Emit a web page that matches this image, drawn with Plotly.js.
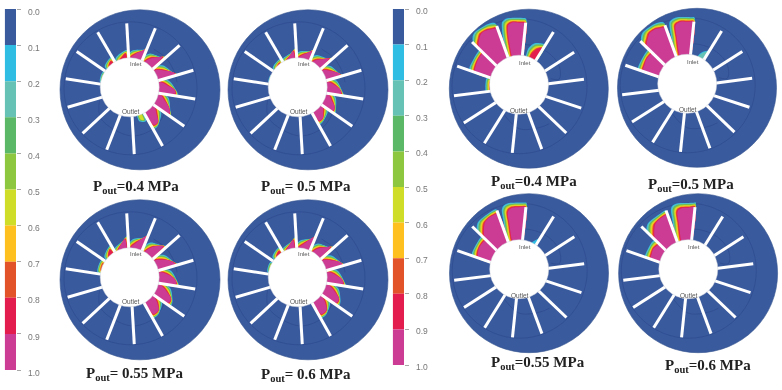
<!DOCTYPE html>
<html><head><meta charset="utf-8">
<script src="https://cdn.plot.ly/plotly-3.0.1.min.js"></script>
<style>html,body{margin:0;padding:0;background:#fff}#plot{width:782px;height:390px;filter:blur(0.4px)}</style>
</head><body><div id="plot"></div>
<script>
// Colour scale
const levels = [0.0,0.1,0.2,0.3,0.4,0.5,0.6,0.7,0.8,0.9,1.0];
const levelLabels = ['0.0','0.1','0.2','0.3','0.4','0.5','0.6','0.7','0.8','0.9','1.0'];
const levelColors = ['#3a5a9e','#2fbde4','#66c2b4','#5ab866','#8dc63f','#cfdc28','#fdc01e','#e2532a','#e31e4f','#cc3c94'];

// Vane directions (degrees) read from each group of discs
const vanesLeft = [93.3,67.7,41.5,16.4,-9,-34.8,-60.7,-86.7,-111.3,-137,-163.6,171.2,145.2,120.1];
const vanesRight = [84.1,58.3,32.7,7.5,-18.2,-43.8,-69.7,-95.9,-121.9,-147.4,-173,160.8,135.8,109.9];

// Port arcs [angle, radius]
const arcsLeft = [
  [[60,46],[40,47],[20,47],[8,47]],
  [[-160,33],[-135,42],[-90,47],[-60,46],[-35,42]]
];
const arcsRight = [
  [[128,32],[112,39],[90,43],[62,45],[40,46],[24,45],[12,41],[16,33]],
  [[-118,31],[-90,41],[-62,45],[-50,47]]
];

// Cavitation regions per disc: [peak level, [angle, radius], ...]
const regions040 = [
  [9,[69,42],[74,39],[82,35],[90,31]],
  [9,[45,45],[50,41],[56,37],[62,31]],
  [9,[19,47],[24,43],[30,37],[37,31]],
  [9,[-6,45],[-1,44],[5,37],[12,31]],
  [9,[-32,46],[-26,43],[-19,36],[-12,31]],
  [9,[-57,43],[-50,43],[-44,36],[-38,31]],
  [5,[-67,34],[-72,32]],
  [8,[98,36],[105,33],[112,30]],
  [8,[125,34],[134,31]],
  [4,[150,31],[165,30]]
];
const regions050 = [
  [9,[71,40],[76,37],[83,34],[90,31]],
  [9,[45,43],[50,39],[56,35],[62,31]],
  [9,[19,44],[24,41],[30,36],[37,31]],
  [9,[-6,43],[0,41],[6,36],[12,31]],
  [9,[-32,41],[-26,40],[-19,35],[-12,31]],
  [9,[-57,38],[-50,38],[-44,34],[-38,31]],
  [9,[98,38],[105,34],[113,30]],
  [8,[126,32],[136,30]],
  [3,[155,30],[165,30]]
];
const regions055 = [
  [9,[70,45],[75,41],[82,36],[90,31]],
  [9,[45,46],[50,43],[56,38],[62,31]],
  [9,[19,47],[24,44],[30,38],[37,31]],
  [9,[-6,46],[0,44],[6,38],[12,31]],
  [9,[-32,45],[-26,45],[-19,38],[-12,31]],
  [9,[-57,42],[-48,42],[-42,36],[-38,31]],
  [9,[98,40],[105,36],[114,30]],
  [8,[125,36],[135,31]],
  [7,[150,32],[165,31]]
];
const regions060 = [
  [9,[70,44],[75,40],[82,35],[90,31]],
  [9,[45,45],[50,41],[56,37],[62,31]],
  [9,[19,46],[24,43],[30,37],[37,31]],
  [9,[-6,45],[0,43],[6,37],[12,31]],
  [9,[-32,45],[-26,45],[-19,38],[-12,31]],
  [9,[-57,42],[-48,42],[-42,36],[-38,31]],
  [9,[98,39],[105,35],[114,30]],
  [8,[125,34],[135,31]],
  [5,[152,31],[165,30]]
];
const regionsB040 = [
  [9,[84,64.5],[90,65],[96,65.5],[100,63],[101.8,52],[102.5,42],[103,33]],
  [9,[110,63],[115,64.5],[120,66],[125,66],[129,63],[134,58]],
  [9,[136,50],[140,50],[147,49.5],[153,48.5],[159,47]],
  [7,[168,30],[180,30],[186,29.5]],
  [8,[60,46],[65,43],[70,36]]
];
const regionsB050 = [
  [9,[84,65],[90,65],[95,65.5],[99,64],[101,62],[102,50],[104,33]],
  [9,[110,63],[115,64.5],[120,66],[125,65.5],[129,62.5],[134,58]],
  [9,[136,48],[140,49],[147,49],[153,48],[159,47]],
  [2,[60,41],[66,37],[70,32]]
];
const regionsB055 = [
  [9,[84,65],[90,65],[95,65],[99,63.5],[101,60],[101.5,50],[103,33]],
  [9,[110,62],[115,62.5],[120,62],[125,60],[130,55],[134,50]],
  [9,[136,46],[140,47],[147,47],[153,46],[159,44]],
  [1,[60,39],[63,36],[68,31],[71,28]]
];
const regionsB060 = [
  [9,[84,65],[90,64.5],[95,64.5],[99,63],[100.5,60],[101,50],[103,33]],
  [9,[110,61],[115,61],[120,60],[125,58],[130,53],[134,48]],
  [9,[136,40],[140,41],[147,42],[153,41],[159,40]]
];

const captions = ['P<sub>out</sub>=0.4 MPa','P<sub>out</sub>= 0.5 MPa','P<sub>out</sub>=0.4 MPa','P<sub>out</sub>=0.5 MPa',
                  'P<sub>out</sub>= 0.55 MPa','P<sub>out</sub>= 0.6 MPa','P<sub>out</sub>=0.55 MPa','P<sub>out</sub>=0.6 MPa'];
const portNames = ['Inlet','Outlet'];

// Layout of the figure in page pixels
const panels = [
 {cx:130.5,cy:88.8,left:true, spread:0.42,regions:regions040,capX:136,capY:187},
 {cx:298.5,cy:88.8,left:true, spread:0.42,regions:regions050,capX:306,capY:187},
 {cx:519,  cy:87.7,left:false,spread:0.6,regions:regionsB040,capX:534,capY:182},
 {cx:687.2,cy:86.8,left:false,spread:0.6,regions:regionsB050,capX:691,capY:185},
 {cx:130.5,cy:278.8,left:true, spread:0.42,regions:regions055,capX:134,capY:374},
 {cx:298.5,cy:278.8,left:true, spread:0.42,regions:regions060,capX:306,capY:375},
 {cx:519.2,cy:272.2,left:false,spread:0.6,regions:regionsB055,capX:538,capY:363},
 {cx:688.3,cy:272.2,left:false,spread:0.65,regions:regionsB060,capX:708,capY:366}
];
const W=782,H=390;
const BOX={l:72,r:92,u:82,d:84};
const rad=a=>a*Math.PI/180;
const traces=[]; const shapes=[]; const annotations=[]; const layout={
  width:W,height:H,margin:{l:0,r:0,t:0,b:0},paper_bgcolor:'#fff',plot_bgcolor:'rgba(0,0,0,0)',showlegend:false
};

function limits(a,vanes){
  let lo=-400,hi=400;
  vanes.forEach(v=>{const d=((v-a+540)%360)-180; if(d>=0&&d<hi)hi=d; if(d<0&&d>lo)lo=d;});
  return [a+lo,a+hi];
}
function bandPolygon(pts,d,vanes){
  const as=pts.map(p=>p[0]);
  const mid=(Math.min(...as)+Math.max(...as))/2;
  const [lo,hi]=limits(mid,vanes);
  const out=pts.map(([a,r])=>{
    let b=a+(a>=mid?1:-1)*d/r*180/Math.PI;
    b=Math.max(lo,Math.min(hi,b));
    return [b,r+d];
  });
  out.push([out[out.length-1][0],20]); out.unshift([out[0][0],20]);
  return out;
}

panels.forEach((p,i)=>{
  const n=i+1, xa=n===1?'x':'x'+n, ya=n===1?'y':'y'+n;
  layout['xaxis'+(n===1?'':n)]={domain:[(p.cx-BOX.l)/W,(p.cx+BOX.r)/W],range:[-BOX.l,BOX.r],visible:false,fixedrange:true,anchor:ya};
  layout['yaxis'+(n===1?'':n)]={domain:[(H-p.cy-BOX.d)/H,(H-p.cy+BOX.u)/H],range:[-BOX.d,BOX.u],visible:false,fixedrange:true,anchor:xa};
  const vanes=p.left?vanesLeft:vanesRight;
  const arcs=p.left?arcsLeft:arcsRight;
  const disc=p.left?{x:9.5,y:-1,r:80}:{x:9.8,y:-1,r:79.5};
  const hole=p.left?{x:-0.8,y:1.5,r:29.5}:{x:0,y:3,r:29.5};
  const ring=p.left?{x:0,y:0.5,r:66.5}:{x:0.5,y:1.5,r:67.5};
  shapes.push({type:'circle',xref:xa,yref:ya,x0:disc.x-disc.r,x1:disc.x+disc.r,y0:disc.y-disc.r,y1:disc.y+disc.r,
    fillcolor:levelColors[0],line:{color:'#35558f',width:0.6},layer:'below'});
  shapes.push({type:'circle',xref:xa,yref:ya,x0:ring.x-ring.r,x1:ring.x+ring.r,y0:ring.y-ring.r,y1:ring.y+ring.r,
    fillcolor:'rgba(0,0,0,0)',line:{color:'#2f4d90',width:0.8},layer:'below'});
  arcs.forEach(arc=>traces.push({type:'scatter',mode:'lines',xaxis:xa,yaxis:ya,hoverinfo:'skip',
    x:arc.map(q=>q[1]*Math.cos(rad(q[0]))),y:arc.map(q=>q[1]*Math.sin(rad(q[0]))),
    line:{color:'#2f4d90',width:0.8,shape:'spline'}}));
  for(let lev=1;lev<=9;lev++){
    const xs=[],ys=[];
    p.regions.forEach(reg=>{
      const peak=reg[0]; if(lev>peak) return;
      const pts=reg.slice(1);
      bandPolygon(pts,(peak-lev)*p.spread,vanes).forEach(([a,r])=>{xs.push(r*Math.cos(rad(a)));ys.push(r*Math.sin(rad(a)));});
      xs.push(null);ys.push(null);
    });
    if(xs.length) traces.push({type:'scatter',mode:'lines',xaxis:xa,yaxis:ya,hoverinfo:'skip',x:xs,y:ys,
      fill:'toself',fillcolor:levelColors[lev],line:{width:0,color:levelColors[lev],shape:'spline',smoothing:0.8}});
  }
  const vx=[],vy=[];
  vanes.forEach(a=>{vx.push(24*Math.cos(rad(a)),65.5*Math.cos(rad(a)),null);vy.push(24*Math.sin(rad(a)),65.5*Math.sin(rad(a)),null);});
  traces.push({type:'scatter',mode:'lines',xaxis:xa,yaxis:ya,hoverinfo:'skip',x:vx,y:vy,line:{color:'#fff',width:3}});
  shapes.push({type:'circle',xref:xa,yref:ya,x0:hole.x-hole.r,x1:hole.x+hole.r,y0:hole.y-hole.r,y1:hole.y+hole.r,
    fillcolor:'#fff',line:{color:'#cfd3da',width:0.5},layer:'above'});
  annotations.push({xref:xa,yref:ya,x:5.5,y:25,text:portNames[0],showarrow:false,font:{family:'Liberation Sans',size:6,color:'#555'}});
  annotations.push({xref:xa,yref:ya,x:0.3,y:-23,text:portNames[1],showarrow:false,font:{family:'Liberation Sans',size:6.5,color:'#555'}});
  annotations.push({xref:'paper',yref:'paper',x:p.capX/W,y:1-p.capY/H,xanchor:'center',yanchor:'middle',showarrow:false,
    text:'<b>'+captions[i]+'</b>',font:{family:'Liberation Serif',size:15,color:'#222'}});
});

// Colour bars
[{n:9,x0:4.7,x1:16,top:9,bottom:370,labelX:34,dy:2.6},{n:10,x0:392.7,x1:404,top:9,bottom:365,labelX:421.7,dy:2}].forEach(c=>{
  layout['xaxis'+c.n]={domain:[c.x0/W,c.x1/W],range:[-0.5,0.5],visible:false,fixedrange:true,anchor:'y'+c.n};
  layout['yaxis'+c.n]={domain:[1-c.bottom/H,1-c.top/H],range:[1,0],anchor:'x'+c.n,side:'right',fixedrange:true,
    tickvals:levels,ticks:'outside',ticklen:4,tickwidth:1,tickcolor:'#a8a8a8',showticklabels:false,showgrid:false,zeroline:false,showline:false};
  traces.push({type:'bar',xaxis:'x'+c.n,yaxis:'y'+c.n,hoverinfo:'skip',
    x:levelColors.map(()=>0),width:levelColors.map(()=>1),
    base:levels.slice(0,10),y:levels.slice(1).map((v,k)=>+(v-levels[k]).toFixed(2)),
    marker:{color:levelColors,line:{width:0}}});
  levels.forEach((v,k)=>annotations.push({xref:'paper',yref:'y'+c.n,x:c.labelX/W,y:v,yshift:-c.dy,xanchor:'center',yanchor:'middle',
    showarrow:false,text:levelLabels[k],font:{family:'Liberation Sans',size:8.5,color:'#777'}}));
});
layout.shapes=shapes; layout.annotations=annotations; layout.barmode='overlay';
Plotly.newPlot('plot',traces,layout,{displayModeBar:false,staticPlot:true});
</script></body></html>
